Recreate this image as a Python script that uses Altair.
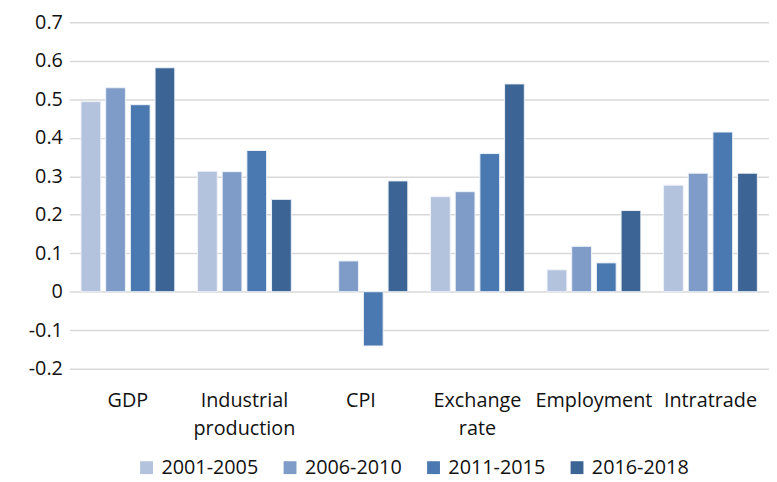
import altair as alt
import pandas as pd

categories = ["GDP", "Industrial production", "CPI", "Exchange rate", "Employment", "Intratrade"]
periods = ["2001-2005", "2006-2010", "2011-2015", "2016-2018"]
colors = ["#b4c3dd", "#7f9cc8", "#4a78b0", "#3c6595"]

v_2001_2005 = [0.494, 0.313, 0.0, 0.247, 0.057, 0.277]
v_2006_2010 = [0.530, 0.312, 0.080, 0.260, 0.118, 0.308]
v_2011_2015 = [0.486, 0.367, -0.141, 0.359, 0.075, 0.415]
v_2016_2018 = [0.582, 0.240, 0.288, 0.540, 0.211, 0.308]

series = [v_2001_2005, v_2006_2010, v_2011_2015, v_2016_2018]
rows = []
for p, vals in zip(periods, series):
    for c, v in zip(categories, vals):
        rows.append({"category": c, "period": p, "value": v})
df = pd.DataFrame(rows)

FONT = "Open Sans"
FS = 20

chart = alt.Chart(df).mark_bar(stroke="#eef2f8", strokeWidth=1).encode(
    x=alt.X("category:N", sort=categories, title=None,
            scale=alt.Scale(paddingInner=0.195, paddingOuter=0.1),
            axis=alt.Axis(labelAngle=0, domain=False, ticks=False, grid=False,
                          labelExpr="split(datum.label, ' ')",
                          labelPadding=32, labelLineHeight=28,
                          labelFontSize=FS, labelFont=FONT, labelColor="#111111",
                          labelBaseline="middle")),
    xOffset=alt.XOffset("period:N", sort=periods,
                        scale=alt.Scale(paddingInner=0.2, paddingOuter=0)),
    y=alt.Y("value:Q", title=None,
            scale=alt.Scale(domain=[-0.2, 0.7], nice=False, zero=True),
            axis=alt.Axis(values=[-0.2, -0.1, 0, 0.1, 0.2, 0.3, 0.4, 0.5, 0.6, 0.7],
                          labelExpr="toString(round(datum.value * 10) / 10)",
                          domain=False, ticks=False, labelPadding=7,
                          labelFontSize=FS, labelFont=FONT, labelColor="#111111",
                          gridColor="#d9d9d9", gridWidth=1.5)),
    color=alt.Color("period:N", sort=periods,
                    scale=alt.Scale(domain=periods, range=colors),
                    legend=alt.Legend(title=None, orient="none", direction="horizontal",
                                      columns=4, legendX=68, legendY=440,
                                      symbolType="square", symbolSize=169,
                                      symbolStrokeWidth=0, labelFontSize=FS,
                                      labelFont=FONT, labelColor="#111111",
                                      labelOffset=5, columnPadding=22)),
).transform_filter(
    "datum.value != 0"
).properties(
    width=707, height=350,
    autosize=alt.AutoSizeParams(type="none"),
    padding={"left": 62, "top": 12, "right": 0, "bottom": 112},
).configure_view(stroke=None)

chart.save("out.html", embed_options={"renderer": "svg", "actions": False})
